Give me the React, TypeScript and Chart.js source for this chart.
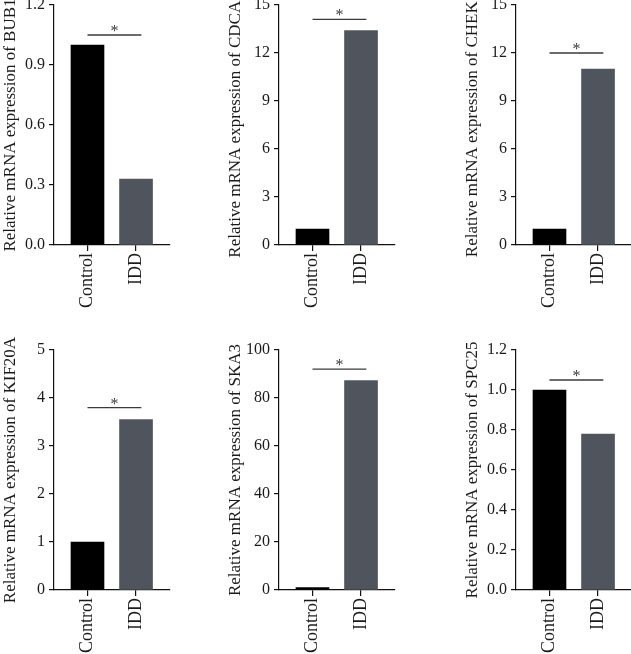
import React, { useEffect, useRef } from "react";
import { Chart, registerables } from "chart.js";

Chart.register(...registerables);

const categories = ["Control", "IDD"];
const genes = ["BUB1", "CDCA2", "CHEK1", "KIF20A", "SKA3", "SPC25"];
const controlValues = [1, 1, 1, 1, 1, 1];
const iddValues = [0.33, 13.4, 11.0, 3.55, 87.3, 0.78];
const sigLineValues = [1.05, 14.1, 12.0, 3.8, 92, 1.05];
const yMaxValues = [1.2, 15, 15, 5, 100, 1.2];
const yStepValues = [0.3, 3, 3, 1, 20, 0.2];
const yDecimals = [1, 0, 0, 0, 0, 1];
const sigLineSpan = [0, 1.11];

const FONT = "'Liberation Serif', 'Times New Roman', serif";
const TEXT = "#1a1a1a";
const BAR_COLORS = ["#000000", "#50545c"];

const AXIS_X = [54, 279, 516];
const ROW_TOP = [0, 330];
const ROW_PAD_TOP = [5, 20];
const ROW_H = [330, 324];
const Y_W = 54;
const PLOT_W = 116;
const PLOT_H = 240;
const X_H = 64;
const CANVAS_W = Y_W + PLOT_W + 10;

function Panel({ idx }: { idx: number }) {
  const ref = useRef<HTMLCanvasElement>(null);
  const row = Math.floor(idx / 3);
  const col = idx % 3;
  const height = ROW_H[row];
  const padTop = ROW_PAD_TOP[row];
  const padBottom = Math.max(0, height - padTop - PLOT_H - X_H);

  useEffect(() => {
    if (!ref.current) return;
    const sigPlugin = {
      id: "sig",
      afterDatasetsDraw(chart: any) {
        const xs = chart.scales.x;
        const ys = chart.scales.y;
        const ctx = chart.ctx;
        const x1 = xs.getPixelForValue(sigLineSpan[0]);
        const x2 = xs.getPixelForValue(sigLineSpan[1]);
        const y = ys.getPixelForValue(sigLineValues[idx]);
        ctx.save();
        ctx.strokeStyle = "#3a3a3a";
        ctx.lineWidth = 1.3;
        ctx.beginPath();
        ctx.moveTo(x1, y);
        ctx.lineTo(x2, y);
        ctx.stroke();
        ctx.fillStyle = "#3a3a3a";
        ctx.font = `16px ${FONT}`;
        ctx.textAlign = "center";
        ctx.textBaseline = "alphabetic";
        ctx.fillText("*", (x1 + x2) / 2, y + 1);
        ctx.restore();
      },
    };
    const chart = new Chart(ref.current, {
      type: "bar",
      data: {
        datasets: [
          {
            data: [
              { x: 0, y: controlValues[idx] },
              { x: 1, y: iddValues[idx] },
            ],
            backgroundColor: BAR_COLORS,
            borderWidth: 0,
            barThickness: 33,
          },
        ],
      },
      options: {
        animation: false,
        responsive: false,
        events: [],
        layout: { padding: { top: padTop, left: 0, right: 10, bottom: padBottom } },
        plugins: { legend: { display: false }, tooltip: { enabled: false } },
        scales: {
          x: {
            type: "linear",
            offset: false,
            min: -0.69,
            max: 1.7,
            afterBuildTicks: (axis: any) => {
              axis.ticks = [{ value: 0 }, { value: 1 }];
            },
            afterFit: (s: any) => {
              s.height = X_H;
              s.paddingLeft = 0;
              s.paddingRight = 0;
            },
            grid: {
              offset: false,
              drawOnChartArea: false,
              drawTicks: true,
              tickLength: 6,
              color: "#111",
              lineWidth: 1.2,
            },
            border: { color: "#111", width: 1.2 },
            ticks: {
              autoSkip: false,
              minRotation: 90,
              maxRotation: 90,
              padding: 2,
              color: TEXT,
              font: { family: FONT, size: 18 },
              callback: (v: any) => categories[v] ?? "",
            },
          },
          y: {
            min: 0,
            max: yMaxValues[idx],
            afterFit: (s: any) => {
              s.width = Y_W;
              s.paddingTop = 0;
              s.paddingBottom = 0;
            },
            grid: {
              drawOnChartArea: false,
              drawTicks: true,
              tickLength: 5,
              color: "#111",
              lineWidth: 1.2,
            },
            border: { color: "#111", width: 1.2 },
            ticks: {
              stepSize: yStepValues[idx],
              padding: 4,
              color: TEXT,
              font: { family: FONT, size: 16 },
              callback: (v: any) => Number(v).toFixed(yDecimals[idx]),
            },
            title: {
              display: true,
              text: `Relative mRNA expression of ${genes[idx]}`,
              color: TEXT,
              font: { family: FONT, size: 17 },
              padding: { top: 0, bottom: 0 },
            },
          },
        },
      },
      plugins: [sigPlugin],
    } as any);
    return () => chart.destroy();
  }, [idx]);

  return (
    <canvas
      ref={ref}
      width={CANVAS_W}
      height={height}
      style={{
        position: "absolute",
        left: AXIS_X[col] - Y_W,
        top: ROW_TOP[row],
        width: CANVAS_W,
        height,
      }}
    />
  );
}

export default function App() {
  return (
    <div
      style={{
        position: "absolute",
        left: 0,
        top: 0,
        width: 631,
        height: 654,
        overflow: "hidden",
        background: "#fff",
      }}
    >
      {genes.map((_, i) => (
        <Panel key={i} idx={i} />
      ))}
    </div>
  );
}
